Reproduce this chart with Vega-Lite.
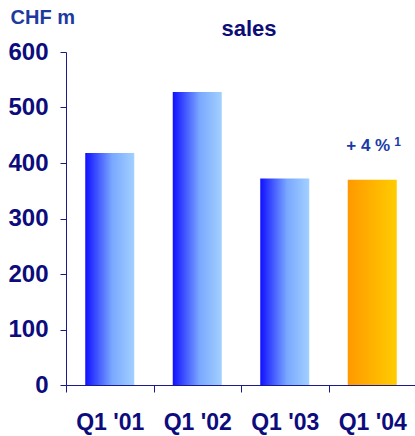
{
  "$schema": "https://vega.github.io/schema/vega-lite/v6.json",
  "autosize": "none",
  "width": 350,
  "height": 333,
  "padding": {"left": 66, "top": 52, "right": 0, "bottom": 51},
  "background": "white",
  "config": {"view": {"stroke": null}, "font": "Liberation Sans"},
  "title": {
    "text": "sales",
    "font": "Liberation Sans",
    "fontSize": 22,
    "fontWeight": "bold",
    "color": "#0d0d78",
    "anchor": "middle",
    "frame": "group",
    "dx": 8,
    "baseline": "alphabetic",
    "offset": -51
  },
  "data": {
    "values": [
      {"quarter": "Q1 '01", "sales": 418, "group": "past", "note": "", "sup": ""},
      {"quarter": "Q1 '02", "sales": 528, "group": "past", "note": "", "sup": ""},
      {"quarter": "Q1 '03", "sales": 372, "group": "past", "note": "", "sup": ""},
      {"quarter": "Q1 '04", "sales": 370, "group": "current", "note": "+ 4 %", "sup": "1"}
    ]
  },
  "encoding": {
    "x": {
      "field": "quarter",
      "type": "ordinal",
      "sort": null,
      "scale": {"paddingInner": 0, "paddingOuter": 0},
      "axis": {
        "title": null,
        "labelAngle": 0,
        "labelFont": "Liberation Sans",
        "labelFontSize": 23,
        "labelFontWeight": "bold",
        "labelColor": "#0c0c7c",
        "labelPadding": 19,
        "labelBaseline": "top",
        "tickBand": "extent",
        "tickSize": 7,
        "tickColor": "#1a1a8c",
        "domainColor": "#1a1a8c",
        "tickWidth": 1,
        "domainWidth": 1
      }
    },
    "y": {
      "field": "sales",
      "type": "quantitative",
      "scale": {"domain": [0, 600], "nice": false},
      "axis": {
        "title": "CHF m",
        "titleAngle": 0,
        "titleX": -56,
        "titleY": -29,
        "titleAlign": "left",
        "titleBaseline": "alphabetic",
        "titleFont": "Liberation Sans",
        "titleFontSize": 20,
        "titleFontWeight": "bold",
        "titleColor": "#1e3a9e",
        "values": [0, 100, 200, 300, 400, 500, 600],
        "grid": false,
        "labelFont": "Liberation Sans",
        "labelFontSize": 24,
        "labelFontWeight": "bold",
        "labelColor": "#0c0c7c",
        "labelPadding": 12,
        "tickSize": 6,
        "tickColor": "#1a1a8c",
        "domainColor": "#1a1a8c",
        "labelFlush": false
      }
    }
  },
  "layer": [
    {
      "transform": [{"filter": "datum.group === 'past'"}],
      "mark": {
        "type": "bar",
        "width": {"band": 0.56},
        "color": {
          "gradient": "linear",
          "x1": 0, "y1": 0, "x2": 1, "y2": 0,
          "stops": [
            {"offset": 0, "color": "#1010ff"},
            {"offset": 0.55, "color": "#7aa8ff"},
            {"offset": 1, "color": "#a2d0ff"}
          ]
        }
      }
    },
    {
      "transform": [{"filter": "datum.group === 'current'"}],
      "mark": {
        "type": "bar",
        "width": {"band": 0.56},
        "color": {
          "gradient": "linear",
          "x1": 0, "y1": 0, "x2": 1, "y2": 0,
          "stops": [
            {"offset": 0, "color": "#ff9900"},
            {"offset": 1, "color": "#ffcc00"}
          ]
        }
      }
    },
    {
      "transform": [{"filter": "datum.note !== ''"}],
      "mark": {
        "type": "text",
        "font": "Liberation Sans",
        "fontSize": 17,
        "fontWeight": "bold",
        "color": "#1a3aa8",
        "baseline": "alphabetic",
        "align": "center",
        "dx": -4,
        "dy": -29
      },
      "encoding": {"text": {"field": "note"}}
    },
    {
      "transform": [{"filter": "datum.sup !== ''"}],
      "mark": {
        "type": "text",
        "font": "Liberation Sans",
        "fontSize": 12,
        "fontWeight": "bold",
        "color": "#1a3aa8",
        "baseline": "alphabetic",
        "align": "left",
        "dx": 22,
        "dy": -34
      },
      "encoding": {"text": {"field": "sup"}}
    }
  ]
}
